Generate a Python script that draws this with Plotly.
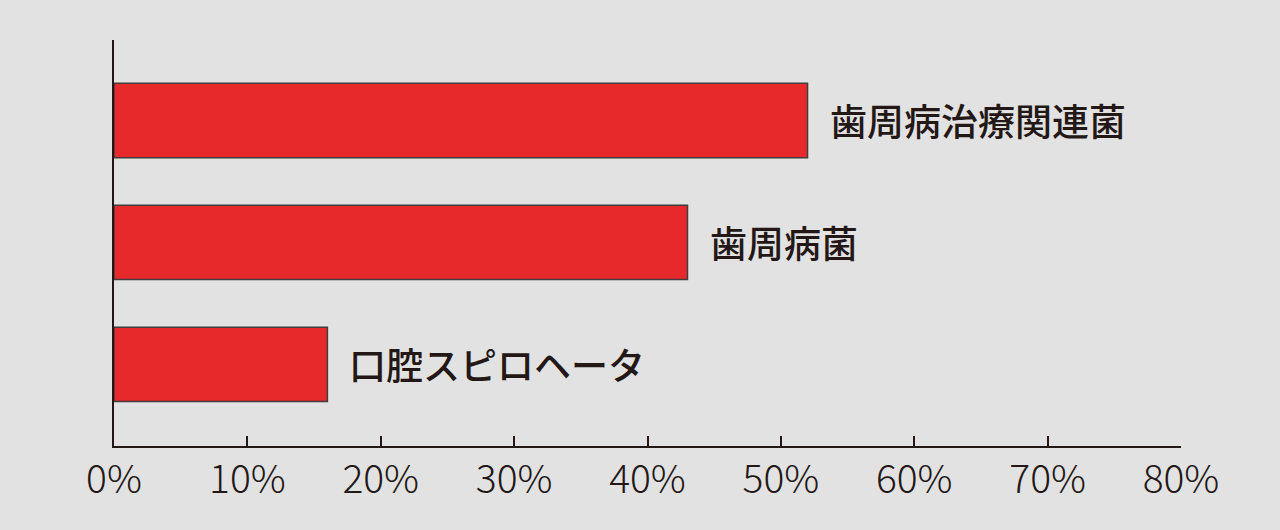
import plotly.graph_objects as go

# bottom to top, as plotted
categories = ["口腔スピロヘータ", "歯周病菌", "歯周病治療関連菌"]
shares = [16, 43, 52]  # percent
tick_values = [0, 10, 20, 30, 40, 50, 60, 70, 80]
tick_labels = [f"{v}%" for v in tick_values]

BG = "#e2e2e2"
BAR = "#e8292b"
INK = "#231815"
FONT = "Noto Sans CJK JP"

fig = go.Figure()
fig.add_trace(
    go.Bar(
        x=shares,
        y=categories,
        orientation="h",
        width=0.61,
        marker={"color": BAR, "line": {"color": "#3e3e3e", "width": 1.5}},
        hoverinfo="skip",
    )
)

for cat, val in zip(categories, shares):
    fig.add_annotation(
        x=val,
        y=cat,
        text=cat,
        showarrow=False,
        xanchor="left",
        xshift=20,
        font={"family": FONT, "size": 37, "color": INK, "weight": 500},
    )

fig.update_layout(
    width=1280,
    height=530,
    paper_bgcolor=BG,
    plot_bgcolor=BG,
    margin={"l": 114, "r": 99, "t": 40, "b": 84},
    showlegend=False,
    font={"family": FONT, "color": INK},
    xaxis={
        "range": [0, 80],
        "tickmode": "array",
        "tickvals": tick_values,
        "ticktext": tick_labels,
        "ticks": "inside",
        "ticklen": 10,
        "tickwidth": 2,
        "tickcolor": INK,
        "showline": True,
        "linecolor": INK,
        "linewidth": 2,
        "showgrid": False,
        "zeroline": False,
        "ticklabelstandoff": -2,
        "tickfont": {"family": FONT, "size": 39, "color": INK, "weight": 300},
    },
    yaxis={
        "type": "category",
        "categoryorder": "array",
        "categoryarray": categories,
        "range": [-0.67, 2.66],
        "showticklabels": False,
        "showline": True,
        "linecolor": INK,
        "linewidth": 2,
        "showgrid": False,
        "zeroline": False,
        "ticks": "",
    },
)

fig.write_html(
    "out.html",
    config={"displayModeBar": False},
    post_script=(
        "document.body.style.margin='0';"
        f"document.body.style.background='{BG}';"
        "document.body.style.overflow='hidden';"
    ),
)
